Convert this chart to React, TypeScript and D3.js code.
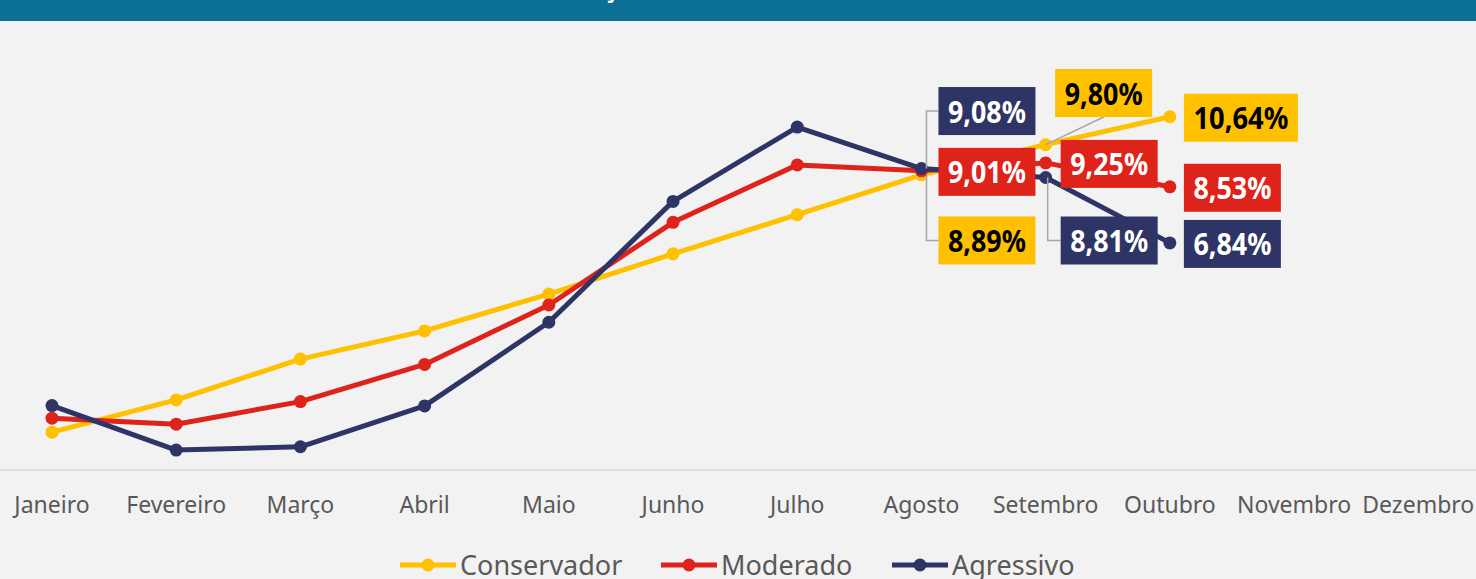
import React from "react";
import * as d3 from "d3";

const months = ["Janeiro","Fevereiro","Março","Abril","Maio","Junho","Julho","Agosto","Setembro","Outubro","Novembro","Dezembro"];
const conservador = [1.14, 2.11, 3.34, 4.19, 5.30, 6.51, 7.69, 8.89, 9.80, 10.64];
const moderado = [1.56, 1.38, 2.06, 3.18, 4.97, 7.46, 9.19, 9.01, 9.25, 8.53];
const agressivo = [1.94, 0.60, 0.70, 1.93, 4.45, 8.09, 10.33, 9.08, 8.81, 6.84];
const seriesNames = ["Conservador", "Moderado", "Agressivo"];

const W = 1476, H = 579;
const colors = ["#ffc000", "#de231b", "#2e3566"];
const textColors = ["#000000", "#ffffff", "#ffffff"];

// label layout: [monthIndex, seriesIndex, dx, dy, leader]
const labelLayout: [number, number, number, number, string][] = [
  [7, 2, 65.5, -57.5, "up"],
  [7, 1, 65.5, 1, ""],
  [7, 0, 65.5, 65.6, "down"],
  [8, 0, 58, -51.6, "diag"],
  [8, 1, 63.5, 1, ""],
  [8, 2, 63.5, 63, "down2"],
  [9, 0, 71, 1, ""],
  [9, 1, 62.5, 1, ""],
  [9, 2, 62.5, 1, ""],
];

export default function App() {
  const allSeries = [conservador, moderado, agressivo];
  const x = d3.scaleBand<string>().domain(months).range([-10.1, 1480.4]);
  const cx = (i: number) => (x(months[i]) as number) + x.bandwidth() / 2;
  const y = d3.scaleLinear().domain([0, 12]).range([470, 470 - 12 * 33.2]);
  const line = d3.line<number>().x((_, i) => cx(i)).y((v) => y(v));
  const fmt = (v: number) => d3.format(".2f")(v).replace(".", ",") + "%";

  const legendX = [400, 661, 892];

  return (
    <svg width={W} height={H} style={{ position: "absolute", left: 0, top: 0, display: "block" }}>
      <rect x={0} y={0} width={W} height={H} fill="#f2f2f2" />
      <rect x={0} y={0} width={W} height={21} fill="#0b7094" />
      <text x={603} y={-3} fill="#fff" fontFamily="Noto Sans" fontSize={26} fontWeight="bold">ç</text>
      <line x1={0} x2={W} y1={y(0)} y2={y(0)} stroke="#d9d9d9" strokeWidth={1.5} />
      {months.map((m, i) => (
        <text key={m} x={cx(i)} y={513} textAnchor="middle" fontFamily="Noto Sans" fontSize={23} fill="#595959">{m}</text>
      ))}
      {allSeries.map((s, si) => (
        <g key={si}>
          <path d={line(s) as string} fill="none" stroke={colors[si]} strokeWidth={5} strokeLinejoin="round" />
          {s.map((v, i) => (
            <circle key={i} cx={cx(i)} cy={y(v)} r={6.5} fill={colors[si]} />
          ))}
        </g>
      ))}
      {labelLayout.map(([mi, si, dx, dy, leader], k) => {
        const v = allSeries[si][mi];
        const px = cx(mi), py = y(v);
        const txt = fmt(v);
        const tl = txt.length * 17 - 7;
        const bw = tl + 19, bh = 48;
        const bx = px + dx, by = py + dy;
        let d = "";
        if (leader === "up" || leader === "down") d = `M${bx - bw / 2},${by} H${px + 5} V${py}`;
        else if (leader === "down2") d = `M${bx - bw / 2},${by} H${px + 2} V${py}`;
        else if (leader === "diag") d = `M${px},${py} L${bx},${by + bh / 2}`;
        return (
          <g key={k}>
            {d && <path d={d} fill="none" stroke="#a6a6a6" strokeWidth={1.5} />}
          </g>
        );
      })}
      {labelLayout.map(([mi, si, dx, dy], k) => {
        const v = allSeries[si][mi];
        const px = cx(mi), py = y(v);
        const txt = fmt(v);
        const tl = txt.length * 17 - 7;
        const bw = tl + 19, bh = 48;
        const bx = px + dx, by = py + dy;
        return (
          <g key={k}>
            <rect x={bx - bw / 2} y={by - bh / 2} width={bw} height={bh} fill={colors[si]} />
            <text x={bx} y={by + 11.5} textAnchor="middle" fontFamily="Noto Sans" fontWeight="bold" fontSize={31}
              fill={textColors[si]} textLength={tl} lengthAdjust="spacingAndGlyphs">{txt}</text>
          </g>
        );
      })}
      {seriesNames.map((n, si) => (
        <g key={n}>
          <line x1={legendX[si]} x2={legendX[si] + 56} y1={565} y2={565} stroke={colors[si]} strokeWidth={5} />
          <circle cx={legendX[si] + 28} cy={565} r={6.5} fill={colors[si]} />
          <text x={legendX[si] + 60} y={575} fontFamily="Noto Sans" fontSize={27} fill="#595959">{n}</text>
        </g>
      ))}
    </svg>
  );
}
